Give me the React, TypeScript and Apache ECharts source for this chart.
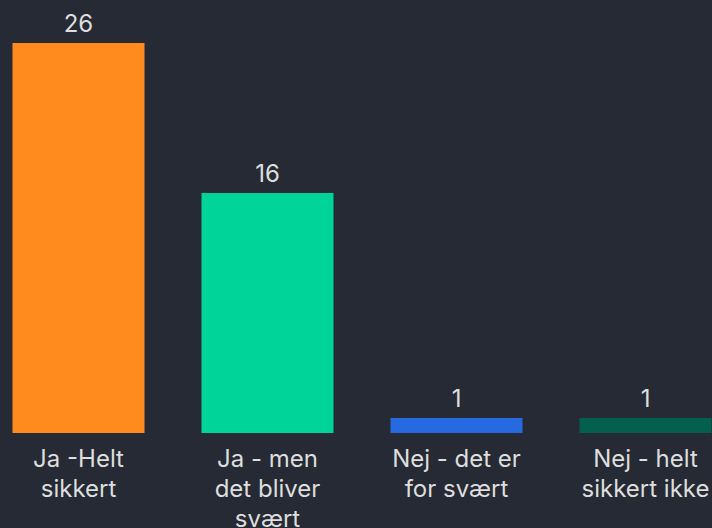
import React, { useEffect, useRef } from "react";
import * as echarts from "echarts";

const categories = ["Ja -Helt\nsikkert", "Ja - men\ndet bliver\nsvært", "Nej - det er\nfor svært", "Nej - helt\nsikkert ikke"];
const values = [26, 16, 1, 1];
const barColors = ["#ff8b1f", "#00d498", "#256ae0", "#03604f"];

export default function App() {
  const ref = useRef<HTMLDivElement>(null);
  useEffect(() => {
    document.body.style.overflow = "hidden";
    document.body.style.background = "#262a34";
    const chart = echarts.init(ref.current!, null, { renderer: "svg" });
    chart.setOption({
      animation: false,
      backgroundColor: "#262a34",
      grid: { left: 0, right: 0, top: 43, bottom: 95, containLabel: false, outerBoundsMode: "none" },
      xAxis: {
        type: "category",
        data: categories,
        axisLine: { show: false },
        axisTick: { show: false },
        axisLabel: {
          interval: 0,
          color: "#dedede",
          fontSize: 24,
          lineHeight: 30,
          margin: 10,
          fontFamily: "Inter, 'Noto Sans', sans-serif",
          letterSpacing: -1,
        },
      },
      yAxis: { type: "value", min: 0, max: 26, show: false, splitLine: { show: false } },
      series: [
        {
          type: "bar",
          barWidth: 132,
          data: values.map((v, i) => ({ value: v, itemStyle: { color: barColors[i] } })),
          label: {
            show: true,
            position: "top",
            distance: 8,
            color: "#dedede",
            fontSize: 24,
            fontFamily: "Inter, 'Noto Sans', sans-serif",
          },
        },
      ],
    });
    return () => chart.dispose();
  }, []);
  return <div ref={ref} style={{ width: 756, height: 528, position: "fixed", left: -16.5, top: 0 }} />;
}
